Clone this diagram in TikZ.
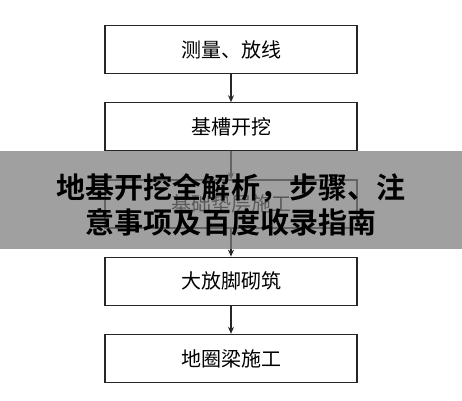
\documentclass[tikz,border=0pt]{standalone}
\usepackage{fontspec}
\usepackage{tikz}
\usetikzlibrary{arrows.meta, positioning, calc}
\newfontfamily\cjk{Noto Sans CJK SC}[BoldFont={Noto Sans CJK SC Bold}]
\definecolor{bannergray}{RGB}{124, 124, 124}

\begin{document}
\begin{tikzpicture}[
  node distance=28pt,
  every node/.style={font=\cjk},
  box/.style={
    draw=black!85, fill=white, line width=1.2pt,
    minimum width=252pt, minimum height=48pt,
    font=\cjk\fontsize{20}{24}\selectfont, inner sep=0pt
  },
  arrow/.style={-{Stealth[length=7pt, width=6pt]}, line width=1.2pt, color=black!85},
  banner/.style={fill=bannergray, fill opacity=0.72},
  title/.style={font=\cjk\bfseries\fontsize{29}{35}\selectfont, align=center, text=black}
]

  % Fasi del cantiere (colonna centrale)
  \node[box] (misura) {测量、放线};
  \node[box, below=of misura] (scavo) {基槽开挖};
  \node[box, below=of scavo] (cuscinetto) {基础垫层施工};
  \node[box, below=of cuscinetto] (piede) {大放脚砌筑};
  \node[box, below=of piede] (cordolo) {地圈梁施工};

  % Frecce verticali
  \draw[arrow] (misura) -- (scavo);
  \draw[arrow] (scavo) -- (cuscinetto);
  \draw[arrow] (cuscinetto) -- (piede);
  \draw[arrow] (piede) -- (cordolo);

  % Margini della pagina
  \coordinate (tl) at ($(misura.north)+(-231pt,25pt)$);
  \coordinate (br) at ($(tl)+(462pt,-400pt)$);
  \useasboundingbox (tl) rectangle (br);

  % Fascia grigia con titolo
  \path[banner] ($(tl)+(0,-151pt)$) rectangle ($(tl)+(462pt,-249pt)$);
  \node[title] (titolo) at ($(tl)+(231pt,-205pt)$) {地基开挖全解析，步骤、注\\意事项及百度收录指南};

\end{tikzpicture}
\end{document}
